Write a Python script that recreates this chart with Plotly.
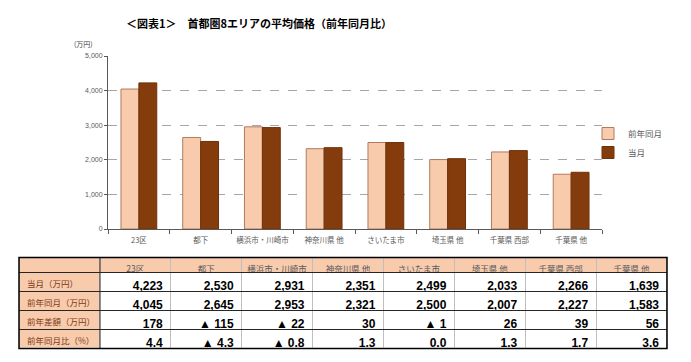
import plotly.graph_objects as go

W, H = 691, 362

categories = ["23区", "都下", "横浜市・川崎市", "神奈川県 他", "さいたま市", "埼玉県 他", "千葉県 西部", "千葉県 他"]
current_month = [4223, 2530, 2931, 2351, 2499, 2033, 2266, 1639]
prior_year = [4045, 2645, 2953, 2321, 2500, 2007, 2227, 1583]
diff_yoy = [178, -115, -22, 30, -1, 26, 39, 56]
pct_yoy = [4.4, -4.3, -0.8, 1.3, 0.0, 1.3, 1.7, 3.6]
row_labels = ["当月（万円）", "前年同月（万円）", "前年差額（万円）", "前年同月比（%）"]
y_ticks = [0, 1000, 2000, 3000, 4000, 5000]

LIGHT = "#F8CBAD"
DARK = "#843C0C"
JP = "Noto Sans CJK JP"

# table geometry (pixels)
T_LEFT, T_RIGHT, T_TOP = 19, 667, 257.5
HEAD_H, ROW_H = 15, 19
LABEL_W, COL_W = 81, 71
T_BOTTOM = T_TOP + HEAD_H + ROW_H * len(row_labels)

def px(x):
    return x / W

def py(y):
    return 1 - y / H

fig = go.Figure()
fig.add_trace(go.Bar(x=categories, y=prior_year, name="前年同月",
                     marker=dict(color=LIGHT, line=dict(color="#B07A5E", width=1))))
fig.add_trace(go.Bar(x=categories, y=current_month, name="当月",
                     marker=dict(color=DARK, line=dict(color="#6E320A", width=1))))

def fmt_int(v):
    return f"▲ {abs(v):,}" if v < 0 else f"{v:,}"

def fmt_pct(v):
    return f"▲ {abs(v):.1f}" if v < 0 else f"{v:.1f}"

cols = [row_labels]
for i in range(len(categories)):
    cols.append([f"{current_month[i]:,}", f"{prior_year[i]:,}",
                 fmt_int(diff_yoy[i]), fmt_pct(pct_yoy[i])])

fig.add_trace(go.Table(
    domain=dict(x=[px(T_LEFT), px(T_RIGHT)], y=[py(T_BOTTOM), py(T_TOP)]),
    columnwidth=[LABEL_W] + [COL_W] * len(categories),
    header=dict(values=[""] + categories, fill_color=LIGHT,
                line=dict(color="#BFBFBF", width=1), height=HEAD_H, align="center",
                font=dict(family=JP, size=8.5, color="#595959")),
    cells=dict(values=cols, fill_color=[[LIGHT] * 4] + [["white"] * 4] * 8,
               line=dict(color="#BFBFBF", width=1), height=ROW_H,
               align=["left"] + ["right"] * 8,
               font=dict(family=[JP] + ["Liberation Sans"] * 8,
                         size=[8.5] + [12] * 8,
                         weight=[400] + [700] * 8,
                         color=["#7A3A14"] + ["#000000"] * 8)),
))

shapes = []
# horizontal dark row separators
for k in range(len(row_labels)):
    yk = T_TOP + HEAD_H + ROW_H * k
    shapes.append(dict(type="line", xref="paper", yref="paper",
                       x0=px(T_LEFT), x1=px(T_RIGHT), y0=py(yk), y1=py(yk),
                       line=dict(color="#262626", width=1)))
# vertical line after label column
shapes.append(dict(type="line", xref="paper", yref="paper",
                   x0=px(T_LEFT + LABEL_W), x1=px(T_LEFT + LABEL_W),
                   y0=py(T_TOP), y1=py(T_BOTTOM), line=dict(color="#262626", width=1)))
shapes.append(dict(type="rect", xref="paper", yref="paper",
                   x0=px(T_LEFT), x1=px(T_RIGHT), y0=py(T_BOTTOM), y1=py(T_TOP),
                   line=dict(color="#000000", width=1.5)))

fig.update_layout(
    width=W, height=H, margin=dict(l=0, r=0, t=0, b=0),
    paper_bgcolor="white", plot_bgcolor="white",
    barmode="group", bargap=0.42, bargroupgap=0,
    font=dict(family=JP, color="#595959"),
    shapes=shapes,
    xaxis=dict(domain=[px(108), px(602)], showline=True, linecolor="#595959", linewidth=1,
               ticks="outside", tickson="boundaries", ticklen=4, tickcolor="#595959",
               tickangle=0, automargin=False, ticklabelstandoff=4,
               tickfont=dict(size=7.5, color="#595959"), showgrid=False),
    yaxis=dict(domain=[py(229), py(56)], range=[0, 5000], tickvals=y_ticks,
               tickformat=",", showline=True, linecolor="#595959", linewidth=1,
               ticks="outside", ticklen=3, tickcolor="#595959", automargin=False,
               tickfont=dict(size=7, family="Liberation Sans", color="#595959"),
               showgrid=True, gridcolor="#A6A6A6", griddash="dash", gridwidth=1,
               zeroline=False),
    legend=dict(x=px(588), y=py(119), xanchor="left", yanchor="top",
                font=dict(size=8.5, color="#595959"), itemwidth=30,
                tracegroupgap=2, bgcolor="rgba(0,0,0,0)"),
    annotations=[
        dict(text="<b>＜図表1＞　首都圏8エリアの平均価格（前年同月比）</b>", xref="paper", yref="paper",
             x=px(259), y=py(23), xanchor="center", yanchor="middle", showarrow=False,
             font=dict(family=JP, size=11, color="#000000")),
        dict(text="(万円)", xref="paper", yref="paper", x=px(83), y=py(44),
             xanchor="center", yanchor="middle", showarrow=False,
             font=dict(family=JP, size=7, color="#404040")),
    ],
)

fig.write_html("out.html", config={"displayModeBar": False},
               post_script="document.body.style.margin='0';")
